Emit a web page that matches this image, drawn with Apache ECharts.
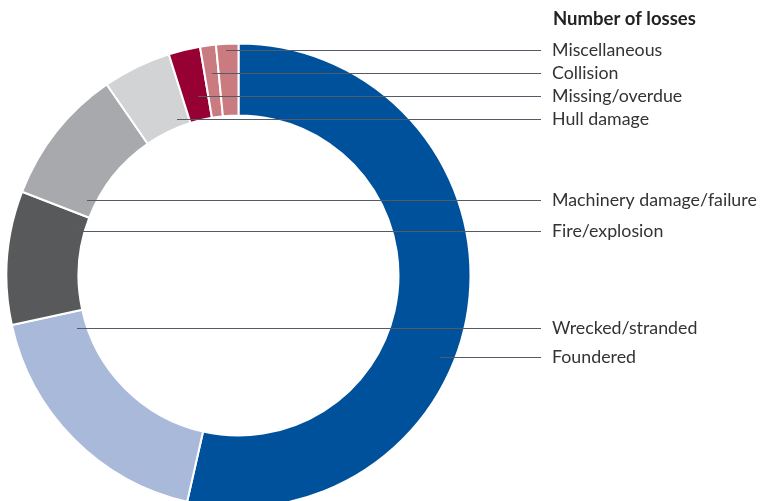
<!DOCTYPE html>
<html>
<head>
<meta charset="utf-8">
<script src="https://cdn.jsdelivr.net/npm/echarts@6/dist/echarts.min.js"></script>
<style>
  * { margin: 0; padding: 0; }
  html, body { background: #fff; }
</style>
</head>
<body>
<div id="main" style="width: 761px; height: 501px;"></div>
<script>
  // causes, clockwise from 12 o'clock
  var causes = ['Foundered', 'Wrecked/stranded', 'Fire/explosion', 'Machinery damage/failure',
    'Hull damage', 'Missing/overdue', 'Collision', 'Miscellaneous'];
  var losses = [53.5, 18, 9.3, 9.5, 4.75, 2.2, 1.1, 1.55];
  var colors = ['#00519c', '#a9b9da', '#58595b', '#a7a9ac', '#d1d3d4', '#960032', '#c97b80', '#c97b80'];

  // label layout (y of each label row, x where its leader starts)
  var labelY = [357, 328, 231, 200, 119, 96, 73, 50];
  var lineStartX = [440, 77, 74, 87, 177, 198, 212, 226];
  var lineEndX = 541;

  var chart = echarts.init(document.getElementById('main'));
  chart.setOption({
    animation: false,
    title: {
      text: 'Number of losses',
      left: 548,
      top: 5,
      textStyle: {
        fontFamily: 'Lato',
        fontWeight: 'bold',
        fontSize: 18.5,
        color: '#222'
      }
    },
    // leader lines, drawn above the ring
    graphic: causes.map(function (name, i) {
      return {
        type: 'line',
        z: 100,
        silent: true,
        shape: { x1: lineStartX[i], y1: labelY[i] + 0.5, x2: lineEndX, y2: labelY[i] + 0.5 },
        style: { stroke: '#545b67', lineWidth: 1 }
      };
    }),
    series: [
      {
        type: 'pie',
        center: [238.5, 275.5],
        radius: [160, 232],
        startAngle: 90,
        clockwise: true,
        avoidLabelOverlap: false,
        data: causes.map(function (name, i) {
          return { name: name, value: losses[i], itemStyle: { color: colors[i] } };
        }),
        itemStyle: { borderColor: '#fff', borderWidth: 2 },
        emphasis: { disabled: true },
        label: {
          show: true,
          position: 'outside',
          formatter: '{b}',
          fontFamily: 'Lato',
          fontSize: 17.8,
          color: '#333'
        },
        labelLine: { show: false },
        labelLayout: function (params) {
          var i = params.dataIndex;
          return {
            x: 552,
            y: labelY[i],
            align: 'left',
            verticalAlign: 'middle'
          };
        }
      }
    ]
  });
</script>
</body>
</html>
